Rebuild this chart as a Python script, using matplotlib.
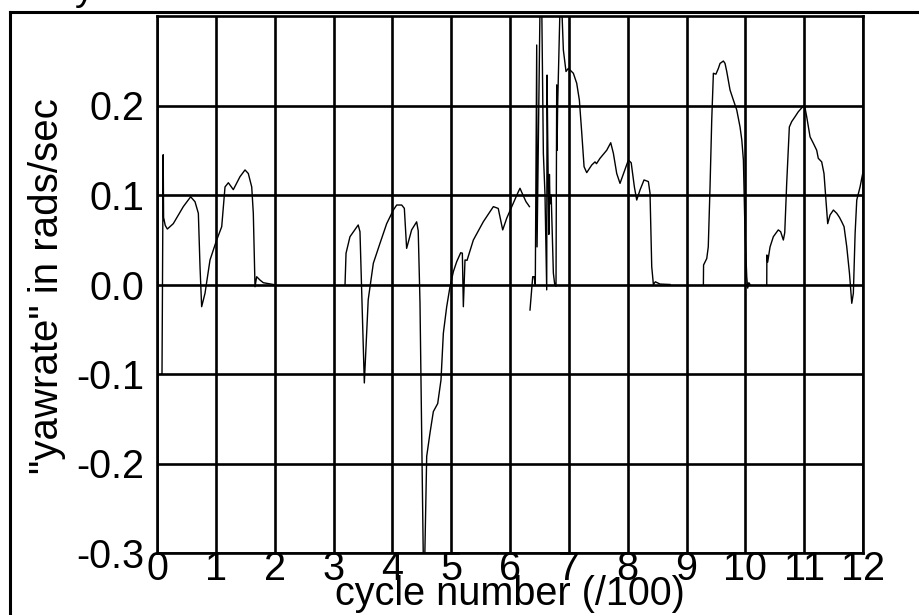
import matplotlib
matplotlib.use("Agg")
import matplotlib.pyplot as plt
from matplotlib.lines import Line2D

plt.rcParams['font.family'] = ['Liberation Sans', 'DejaVu Sans']

# ---- data ----
seg1_x = [0.075, 0.085, 0.105, 0.112, 0.14, 0.176, 0.277, 0.447, 0.572, 0.646, 0.703, 0.731,
          0.759, 0.816, 0.901, 1.014, 1.10, 1.156, 1.213, 1.297, 1.411, 1.496, 1.552, 1.61,
          1.637, 1.666, 1.694, 1.75, 1.807, 1.977]
seg1_y = [-0.10, -0.10, 0.145, 0.075, 0.066, 0.062, 0.068, 0.087, 0.098, 0.0925, 0.0795, 0.02,
          -0.0248, -0.0098, 0.0274, 0.0497, 0.0646, 0.109, 0.1137, 0.106, 0.1205, 0.128, 0.124, 0.109,
          0.0795, -0.0025, 0.0087, 0.005, 0.002, 0.0]

seg2_x = [3.196, 3.213, 3.28, 3.42, 3.45, 3.524, 3.59, 3.677, 3.79, 3.904, 4.017, 4.074, 4.159,
          4.204, 4.243, 4.328, 4.413, 4.44, 4.47, 4.527, 4.55, 4.584, 4.64, 4.697, 4.771, 4.827,
          4.867, 4.924, 4.98, 5.037, 5.094, 5.162, 5.19, 5.207, 5.235, 5.27, 5.377, 5.547, 5.717,
          5.80, 5.876, 5.944, 6.03, 6.142, 6.17, 6.22, 6.272, 6.31, 6.33]
seg2_y = [0.0, 0.0349, 0.0534, 0.0665, 0.059, -0.110, -0.017, 0.0237, 0.046, 0.068, 0.0832, 0.0888,
          0.0888, 0.0851, 0.0404, 0.061, 0.070, 0.06, -0.02, -0.31, -0.31, -0.192, -0.166, -0.142,
          -0.133, -0.1067, -0.0545, -0.0248, -0.0025, 0.0143, 0.0255, 0.0355, 0.035, -0.0248,
          0.0274, 0.027, 0.0497, 0.0702, 0.087, 0.085, 0.061, 0.074, 0.087, 0.1037, 0.1075, 0.10,
          0.0925, 0.089, 0.087]

seg3_x = [6.34, 6.386, 6.41, 6.43, 6.454, 6.46, 6.51, 6.54, 6.567, 6.595, 6.624, 6.63, 6.64,
          6.66, 6.67, 6.68, 6.70, 6.737, 6.76, 6.782, 6.794, 6.80, 6.81, 6.85, 6.88, 6.907, 6.952,
          6.992, 7.077, 7.134, 7.179, 7.22, 7.259, 7.304, 7.389, 7.445, 7.47, 7.53, 7.644, 7.712,
          7.757, 7.814, 7.87, 7.93, 8.012, 8.06, 8.114, 8.154, 8.21, 8.278, 8.352, 8.38, 8.409,
          8.437, 8.47, 8.55, 8.72]
seg3_y = [-0.0285, 0.0087, 0.0087, 0.0, 0.2676, 0.042, 0.31, 0.31, 0.1466, 0.10, -0.006, 0.234,
          0.170, 0.056, 0.123, 0.09, 0.10, 0.0128, 0.0, -0.002, 0.223, 0.15, 0.20, 0.31, 0.31,
          0.262, 0.238, 0.2415, 0.236, 0.2248, 0.206, 0.169, 0.1316, 0.125, 0.1335, 0.137, 0.135,
          0.141, 0.150, 0.1584, 0.1466, 0.124, 0.113, 0.124, 0.139, 0.136, 0.109, 0.0944, 0.1056,
          0.1168, 0.115, 0.102, 0.0199, 0.0, 0.003, 0.0005, 0.0]

seg4_x = [9.287, 9.29, 9.344, 9.37, 9.40, 9.429, 9.457, 9.50, 9.542, 9.57, 9.627, 9.655, 9.684,
          9.74, 9.797, 9.854, 9.91, 9.94, 9.967, 9.995, 10.024, 10.04, 10.06, 10.08]
seg4_y = [0.0, 0.0218, 0.029, 0.042, 0.109, 0.184, 0.236, 0.235, 0.2415, 0.247, 0.2497, 0.247,
          0.238, 0.2173, 0.206, 0.195, 0.176, 0.1615, 0.139, 0.0572, 0.0087, -0.004, 0.002, 0.0]

seg5_x = [10.364, 10.366, 10.38, 10.42, 10.476, 10.56, 10.60, 10.646, 10.67, 10.703, 10.748,
          10.788, 10.845, 10.90, 10.986, 11.01, 11.043, 11.10, 11.156, 11.213, 11.24, 11.298,
          11.337, 11.37, 11.40, 11.44, 11.497, 11.554, 11.60, 11.639, 11.678, 11.724, 11.77,
          11.809, 11.836, 11.866, 11.894, 11.95, 11.995]
seg5_y = [0.0, 0.033, 0.025, 0.042, 0.0534, 0.061, 0.059, 0.0497, 0.058, 0.113, 0.176, 0.182,
          0.1875, 0.193, 0.1994, 0.199, 0.1875, 0.165, 0.1578, 0.150, 0.141, 0.137, 0.124, 0.0944,
          0.068, 0.0777, 0.0832, 0.0795, 0.075, 0.070, 0.0646, 0.042, 0.0125, -0.021, -0.0098,
          0.0572, 0.0944, 0.109, 0.124]

segments = [(seg1_x, seg1_y), (seg2_x, seg2_y), (seg3_x, seg3_y), (seg4_x, seg4_y), (seg5_x, seg5_y)]

x_ticks = list(range(0, 13))
x_tick_labels = [str(v) for v in x_ticks]
y_ticks = [-0.3, -0.2, -0.1, 0.0, 0.1, 0.2]
y_tick_labels = ["-0.3", "-0.2", "-0.1", "0.0", "0.1", "0.2"]

# ---- figure ----
W, H = 919, 615
fig = plt.figure(figsize=(W / 100, H / 100), dpi=100)
ax = fig.add_axes([157 / W, 1 - 553 / H, (863 - 157) / W, (553 - 16) / H])

for xs, ys in segments:
    ax.plot(xs, ys, color='black', lw=1.0, solid_joinstyle='round')

ax.set_xlim(0, 12)
ax.set_ylim(-0.3, 0.3)
ax.set_xticks(x_ticks)
ax.set_xticklabels(x_tick_labels)
ax.set_yticks(y_ticks)
ax.set_yticklabels(y_tick_labels)
ax.grid(True, color='black', lw=1.9)
ax.set_axisbelow(False)
ax.tick_params(axis='both', length=0, labelsize=28.5)
ax.tick_params(axis='x', pad=-2)
ax.tick_params(axis='y', pad=9)
for s in ax.spines.values():
    s.set_linewidth(1.9)

fig.text(510 / W, 1 - 605 / H, "cycle number (/100)", fontsize=28.5, ha='center', va='baseline')
fig.text(47 / W, 1 - 286 / H, '"yawrate" in rads/sec', fontsize=29, ha='center', va='center',
         rotation=90)
fig.text(75 / W, 1 - 0 / H, "y", fontsize=28, ha='left', va='baseline')

# outer frame (left and top edges)
fig.add_artist(Line2D([10 / W, 10 / W], [0, 1 - 12 / H], transform=fig.transFigure,
                      color='black', lw=2.2))
fig.add_artist(Line2D([10 / W, 1], [1 - 12 / H, 1 - 12 / H], transform=fig.transFigure,
                      color='black', lw=2.2))

fig.savefig("out.png", dpi=100)
